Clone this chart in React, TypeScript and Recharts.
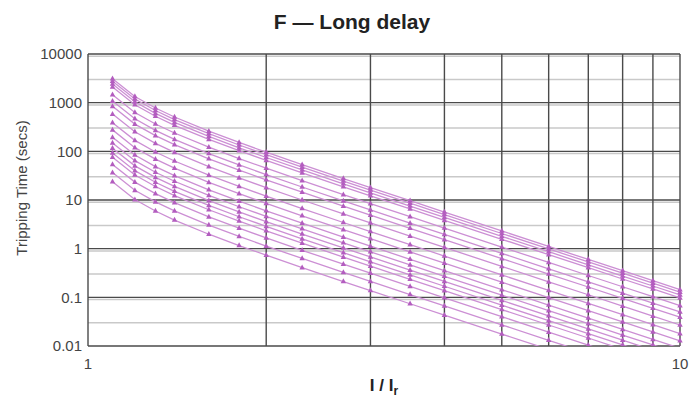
import React from "react";
import {
  LineChart,
  Line,
  XAxis,
  YAxis,
  CartesianGrid,
} from "recharts";

// I / Ir multiples where the markers sit
const xs = [1.1, 1.2, 1.3, 1.4, 1.6, 1.8, 2, 2.3, 2.7, 3, 3.5, 4, 5, 6, 7, 8, 9, 10];

// tripping time (secs) per band, top band first
const curve01 = [3100, 1341, 776, 507, 259, 152, 96, 53.4, 27.6, 18, 9.66, 5.65, 2.31, 1.11, 0.6, 0.352, 0.22, 0.144];
const curve02 = [2758, 1192, 690, 450, 231, 135, 85.3, 47.4, 24.5, 16, 8.59, 5.02, 2.05, 0.988, 0.533, 0.313, 0.195, 0.128];
const curve03 = [2413, 1043, 603, 394, 202, 118, 74.7, 41.5, 21.5, 14, 7.51, 4.39, 1.79, 0.865, 0.467, 0.274, 0.171, 0.112];
const curve04 = [2101, 908, 525, 343, 176, 103, 65, 36.1, 18.7, 12.2, 6.54, 3.82, 1.56, 0.753, 0.406, 0.238, 0.149, 0.0975];
const curve05 = [1454, 629, 364, 238, 122, 71.1, 45, 25, 12.9, 8.44, 4.53, 2.65, 1.08, 0.521, 0.281, 0.165, 0.103, 0.0675];
const curve06 = [1077, 466, 269, 176, 90, 52.6, 33.3, 18.5, 9.59, 6.25, 3.35, 1.96, 0.801, 0.386, 0.208, 0.122, 0.0762, 0.05];
const curve07 = [840, 363, 210, 137, 70.2, 41.1, 26, 14.5, 7.48, 4.88, 2.62, 1.53, 0.625, 0.301, 0.163, 0.0952, 0.0595, 0.039];
const curve08 = [582, 252, 146, 95, 48.6, 28.4, 18, 10, 5.18, 3.38, 1.81, 1.06, 0.433, 0.208, 0.113, 0.0659, 0.0412, 0.027];
const curve09 = [388, 168, 97, 63.3, 32.4, 19, 12, 6.67, 3.45, 2.25, 1.21, 0.706, 0.288, 0.139, 0.075, 0.044, 0.0274, 0.018];
const curve10 = [276, 119, 69, 45, 23, 13.5, 8.53, 4.74, 2.45, 1.6, 0.859, 0.502, 0.205, 0.0988, 0.0533, 0.0313, 0.0195, 0.0128];
const curve11 = [194, 83.8, 48.5, 31.7, 16.2, 9.48, 6, 3.34, 1.73, 1.13, 0.604, 0.353, 0.144, 0.0695, 0.0375, 0.022, 0.0137, 0.009];
const curve12 = [149, 64.3, 37.2, 24.3, 12.4, 7.27, 4.6, 2.56, 1.32, 0.863, 0.463, 0.271, 0.111, 0.0533, 0.0288, 0.0168, 0.0105, 0.0069];
const curve13 = [116, 50.3, 29.1, 19, 9.72, 5.69, 3.6, 2, 1.04, 0.675, 0.362, 0.212, 0.0865, 0.0417, 0.0225, 0.0132, 0.0082, 0.0054];
const curve14 = [92.7, 40.1, 23.2, 15.1, 7.74, 4.53, 2.87, 1.59, 0.825, 0.538, 0.288, 0.169, 0.0689, 0.0332, 0.0179, 0.0105, 0.0066, 0.0043];
const curve15 = [75.4, 32.6, 18.9, 12.3, 6.3, 3.69, 2.33, 1.3, 0.671, 0.438, 0.235, 0.137, 0.0561, 0.027, 0.0146, 0.0085, 0.0053, 0.0035];
const curve16 = [53.9, 23.3, 13.5, 8.8, 4.5, 2.63, 1.67, 0.926, 0.479, 0.313, 0.168, 0.098, 0.0401, 0.0193, 0.0104, 0.0061, 0.0038, 0.0025];
const curve17 = [36.6, 15.8, 9.16, 5.98, 3.06, 1.79, 1.13, 0.63, 0.326, 0.213, 0.114, 0.0667, 0.0272, 0.0131, 0.0071, 0.0042, 0.0026, 0.0017];
const curve18 = [23.7, 10.2, 5.93, 3.87, 1.98, 1.16, 0.733, 0.408, 0.211, 0.138, 0.0738, 0.0431, 0.0176, 0.0085, 0.0046, 0.0027, 0.0017, 0.0011];

const curves = [
  curve01, curve02, curve03, curve04, curve05, curve06, curve07, curve08, curve09,
  curve10, curve11, curve12, curve13, curve14, curve15, curve16, curve17, curve18,
];

// axis ticks and grid
const xTicks = [1, 10];
const yTicks = [0.01, 0.1, 1, 10, 100, 1000, 10000];
const xMajor = [1, 2, 3, 4, 5, 6, 7, 8, 9, 10];
const yMinor = [
  0.02, 0.03, 0.04, 0.05, 0.06, 0.07, 0.08, 0.09,
  0.2, 0.3, 0.4, 0.5, 0.6, 0.7, 0.8, 0.9,
  2, 3, 4, 5, 6, 7, 8, 9,
  20, 30, 40, 50, 60, 70, 80, 90,
  200, 300, 400, 500, 600, 700, 800, 900,
  2000, 3000, 4000, 5000, 6000, 7000, 8000, 9000,
];

const data = xs.map((x, i) => {
  const row: any = { x };
  curves.forEach((c, k) => {
    row[`c${k}`] = c[i];
  });
  return row;
});

const LINE = "#cc8fd4";
const MARK = "#b35dbf";
const FONT = "'Liberation Sans', Arial, sans-serif";

const Triangle = (props: any) => {
  const { cx, cy, key } = props;
  if (cx == null || cy == null) return <g key={key} />;
  return (
    <polygon
      key={key}
      points={`${cx},${cy - 3.2} ${cx - 2.7},${cy + 1.8} ${cx + 2.7},${cy + 1.8}`}
      fill={MARK}
    />
  );
};

const XLabel = (props: any) => {
  const vb = props.viewBox || {};
  const cx = vb.x + vb.width / 2;
  return (
    <text
      x={cx}
      y={391}
      textAnchor="middle"
      fontFamily={FONT}
      fontWeight="bold"
      fontSize={17}
      fill="#222"
    >
      <tspan>I / I</tspan>
      <tspan dy={4} fontSize={12}>r</tspan>
    </text>
  );
};

const YLabel = () => (
  <text
    x={27}
    y={188}
    transform="rotate(-90 27 188)"
    textAnchor="middle"
    fontFamily={FONT}
    fontSize={15}
    fill="#444"
  >
    Tripping Time (secs)
  </text>
);

export default function App() {
  return (
    <div style={{ position: "absolute", left: 0, top: 0, width: 700, height: 398, background: "#fff" }}>
      <div
        style={{
          position: "absolute",
          left: 0,
          top: 10,
          width: 704,
          textAlign: "center",
          fontFamily: FONT,
          fontWeight: "bold",
          fontSize: 21,
          color: "#222",
        }}
      >
        F — Long delay
      </div>
      <LineChart
        width={700}
        height={398}
        data={data}
        margin={{ top: 54, right: 20, bottom: 0, left: 0 }}
      >
        <CartesianGrid
          horizontalValues={yMinor}
          vertical={false}
          stroke="#c9c9c9"
          strokeWidth={1.5}
        />
        <CartesianGrid
          horizontalValues={yTicks}
          verticalValues={xMajor}
          stroke="#4a4a4a"
          strokeWidth={1.4}
        />
        <XAxis
          dataKey="x"
          type="number"
          scale="log"
          domain={[1, 10]}
          ticks={xTicks}
          height={52}
          axisLine={false}
          tickLine={false}
          tickSize={0}
          tickMargin={12}
          tick={{ fontFamily: FONT, fontSize: 15, fill: "#444" }}
          label={<XLabel />}
        />
        <YAxis
          type="number"
          scale="log"
          domain={[0.01, 10000]}
          allowDataOverflow
          ticks={yTicks}
          width={88}
          axisLine={false}
          tickLine={false}
          tickSize={0}
          tickMargin={6}
          tick={{ fontFamily: FONT, fontSize: 15, fill: "#444" }}
          label={<YLabel />}
        />
        {curves.map((_, k) => (
          <Line
            key={k}
            dataKey={`c${k}`}
            type="linear"
            stroke={LINE}
            strokeWidth={1.3}
            dot={Triangle}
            activeDot={false}
            isAnimationActive={false}
          />
        ))}
      </LineChart>
    </div>
  );
}
